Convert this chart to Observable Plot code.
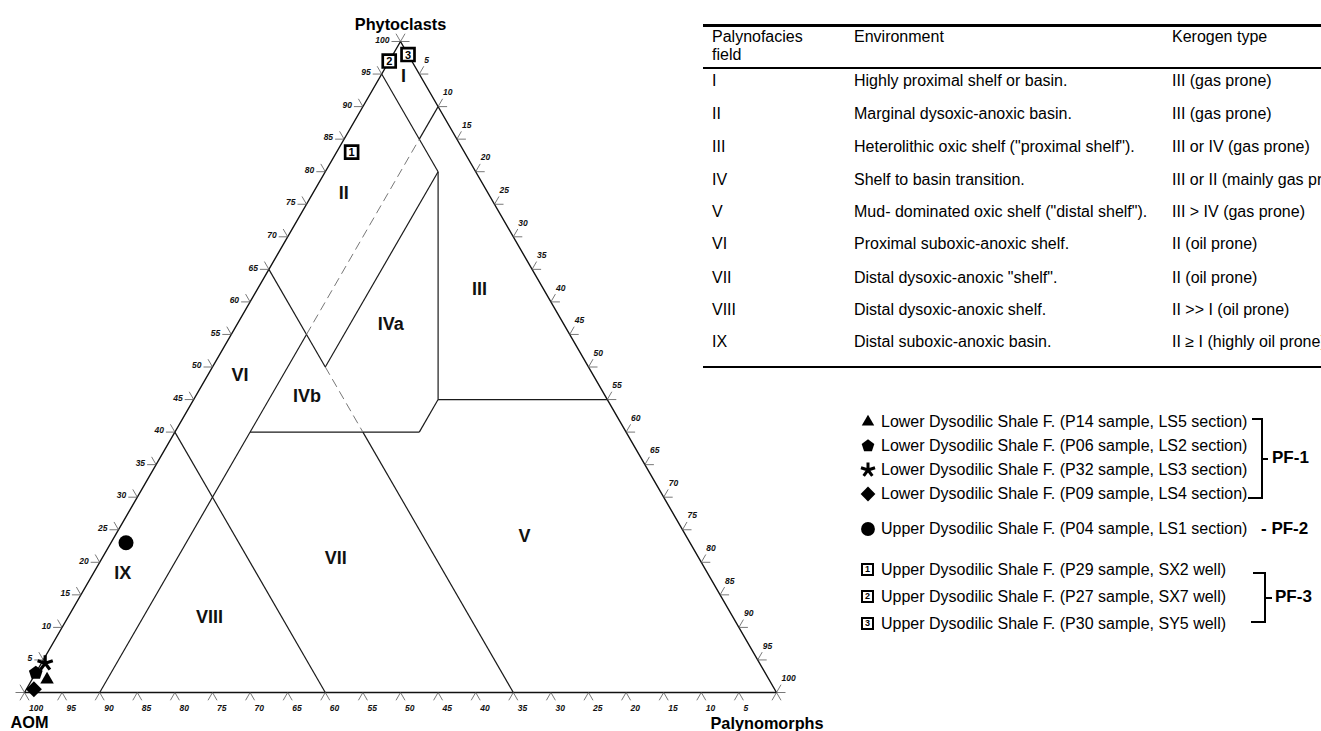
<!DOCTYPE html>
<html><head><meta charset="utf-8">
<script src="https://cdn.jsdelivr.net/npm/d3@7"></script>
<script src="https://cdn.jsdelivr.net/npm/@observablehq/plot@0.6"></script>
<style>
html,body{margin:0;padding:0;background:#fff;}
body{width:1321px;height:731px;overflow:hidden;position:relative;font-family:"Liberation Sans",Arial,sans-serif;color:#000;}
#chart{position:absolute;left:0;top:0;}
.abs{position:absolute;white-space:nowrap;}
</style></head><body>
<div id="chart"></div>
<div id="extra"></div>
<script>
// ---------------- data ----------------
const axisTitles = ["AOM", "Phytoclasts", "Palynomorphs"];
const tickValues = [0,5,10,15,20,25,30,35,40,45,50,55,60,65,70,75,80,85,90,95,100];

// field boundary segments, endpoints as [AOM, Phytoclasts, Palynomorphs] %
const solidBoundaries = [
  [[5,95,0],[5,80,15]],
  [[5,80,15],[22.5,45,32.5]],
  [[22.5,45,32.5],[0,45,55]],
  [[22.5,45,32.5],[27.5,40,32.5]],
  [[27.5,40,32.5],[50,40,10]],
  [[5,80,15],[35,50,15]],
  [[90,0,10],[35,55,10]],
  [[5,85,10],[0,90,10]],
  [[35,65,0],[35,50,15]],
  [[35,40,25],[35,0,65]],
  [[60,40,0],[60,0,40]]
];
const dashedBoundaries = [
  [[35,55,10],[5,85,10]],
  [[35,50,15],[35,40,25]]
];

// palynofacies field labels
const fieldNames = ["I","II","III","IVa","IVb","V","VI","VII","VIII","IX"];
const fieldAOM   = [2.3, 19.2, 8.5, 23, 39.7, 21.5, 47, 48.3, 69.6, 77.8];
const fieldPhyto = [94.6, 76.7, 62, 56.6, 45.5, 24, 48.7, 20.6, 11.6, 18.3];
const fieldPaly  = [3.1, 4.1, 29.5, 20.4, 14.8, 54.5, 4.3, 31.1, 18.8, 3.9];

// samples
const sampleIds   = ["P14","P06","P32","P09","P04","P29","P27","P30"];
const sampleAOM   = [96, 97, 95, 98.5, 75, 15, 3, 0];
const samplePhyto = [2, 3, 4.5, 0.5, 23, 83, 97, 98];
const samplePaly  = [2, 0, 0.5, 1, 2, 2, 0, 2];
const sampleFormations = ["Lower Dysodilic Shale F.","Lower Dysodilic Shale F.","Lower Dysodilic Shale F.","Lower Dysodilic Shale F.","Upper Dysodilic Shale F.","Upper Dysodilic Shale F.","Upper Dysodilic Shale F.","Upper Dysodilic Shale F."];
const sampleDetails = ["(P14 sample, LS5 section)","(P06 sample, LS2 section)","(P32 sample, LS3 section)","(P09 sample, LS4 section)","(P04 sample, LS1 section)","(P29 sample, SX2 well)","(P27 sample, SX7 well)","(P30 sample, SY5 well)"];
const sampleGroups = ["PF-1","PF-1","PF-1","PF-1","PF-2","PF-3","PF-3","PF-3"];

// table
const tableHeaders = ["Palynofacies\nfield", "Environment", "Kerogen type"];
const tableFields = ["I","II","III","IV","V","VI","VII","VIII","IX"];
const tableEnvironments = ["Highly proximal shelf or basin.","Marginal dysoxic-anoxic basin.","Heterolithic oxic shelf (\"proximal shelf\").","Shelf to basin transition.","Mud- dominated oxic shelf (\"distal shelf\").","Proximal suboxic-anoxic shelf.","Distal dysoxic-anoxic \"shelf\".","Distal dysoxic-anoxic shelf.","Distal suboxic-anoxic basin."];
const tableKerogen = ["III (gas prone)","III (gas prone)","III or IV (gas prone)","III or II (mainly gas prone)","III > IV (gas prone)","II (oil prone)","II (oil prone)","II >> I (oil prone)","II \u2265 I (highly oil prone)"];

// ---------------- geometry ----------------
const W = 830, H = 731, L = 24, R = 776, T = 41, B = 692;
const ux = 100 / (R - L), uy = 100 / (B - T);   // data units per pixel
const tx = c => c[2] + c[1] / 2;   // ternary -> cartesian x
const ty = c => c[1];              // ternary -> cartesian y
const comp = (a, ph, pa) => [a, ph, pa];

// symbols
const poly = (n) => ({draw(ctx, size){const r = Math.sqrt(size/Math.PI); for(let i=0;i<n;i++){const a=i*2*Math.PI/n; const x=r*Math.sin(a), y=-r*Math.cos(a); if(i) ctx.lineTo(x,y); else ctx.moveTo(x,y);} ctx.closePath();}});
const star5 = {draw(ctx, size){const r = Math.sqrt(size/Math.PI); for(let i=0;i<5;i++){const a=i*2*Math.PI/5; ctx.moveTo(0,0); ctx.lineTo(r*Math.sin(a), -r*Math.cos(a));}}};
const markerFor = {
  P14: {type: poly(3), r: 7.8, filled: true},
  P06: {type: poly(5), r: 7.2, filled: true},
  P32: {type: star5, r: 8, filled: false},
  P09: {type: poly(4), r: 8, filled: true},
  P04: {type: d3.symbolCircle, r: 7.5, filled: true}
};
const boxNumber = {P29: "1", P27: "2", P30: "3"};

const samples = sampleIds.map((id,i) => ({id, c: comp(sampleAOM[i], samplePhyto[i], samplePaly[i])}));
const fields = fieldNames.map((n,i) => ({n, c: comp(fieldAOM[i], fieldPhyto[i], fieldPaly[i])}));
const segs = arr => arr.map(([a,b]) => ({a, b}));

const outline = [comp(100,0,0), comp(0,100,0), comp(0,0,100), comp(100,0,0)];

// ticks
const leftT = tickValues.map(v => ({v, c: comp(100-v, v, 0)}));
const rightT = tickValues.map(v => ({v, c: comp(0, 100-v, v)}));
const baseT = tickValues.map(v => ({v, c: comp(v, 0, 100-v)}));
const tl = 9;
const tickSegs = [];
for (const t of leftT) {
  const x = tx(t.c), y = ty(t.c);
  tickSegs.push({x1:x, y1:y, x2:x - tl*ux, y2:y});
  tickSegs.push({x1:x, y1:y, x2:x - tl*0.5*ux, y2:y + tl*0.866*uy});
}
for (const t of rightT) {
  const x = tx(t.c), y = ty(t.c);
  tickSegs.push({x1:x, y1:y, x2:x + tl*ux, y2:y});
  tickSegs.push({x1:x, y1:y, x2:x + tl*0.5*ux, y2:y + tl*0.866*uy});
}
for (const t of baseT) {
  const x = tx(t.c), y = ty(t.c);
  tickSegs.push({x1:x, y1:y, x2:x - tl*0.5*ux, y2:y - tl*0.866*uy});
  tickSegs.push({x1:x, y1:y, x2:x + tl*0.5*ux, y2:y - tl*0.866*uy});
}
const tickFont = {fontSize: 8.5, fontStyle: "italic", fontWeight: "bold", fill: "#111"};

const marks = [
  Plot.line(outline, {x: tx, y: ty, stroke: "#111", strokeWidth: 1.4}),
  Plot.link(segs(solidBoundaries), {x1: d=>tx(d.a), y1: d=>ty(d.a), x2: d=>tx(d.b), y2: d=>ty(d.b), stroke: "#1a1a1a", strokeWidth: 1.2}),
  Plot.link(segs(dashedBoundaries), {x1: d=>tx(d.a), y1: d=>ty(d.a), x2: d=>tx(d.b), y2: d=>ty(d.b), stroke: "#777", strokeWidth: 1, strokeDasharray: "9,5"}),
  Plot.link(tickSegs, {x1:"x1", y1:"y1", x2:"x2", y2:"y2", stroke: "#555", strokeWidth: 0.8}),
  Plot.text(leftT.filter(d=>d.v>0), {x: d=>tx(d.c), y: d=>ty(d.c), text: d=>String(d.v), textAnchor: "end", dx: -11, dy: -1.5, ...tickFont}),
  Plot.text(rightT.filter(d=>d.v>0), {x: d=>tx(d.c), y: d=>ty(d.c), text: d=>String(d.v), textAnchor: "start", dx: 5, dy: -14, ...tickFont}),
  Plot.text(baseT.filter(d=>d.v>0), {x: d=>tx(d.c), y: d=>ty(d.c), text: d=>String(d.v), textAnchor: "start", dx: 4.5, dy: 16, ...tickFont}),
  Plot.text(fields, {x: d=>tx(d.c), y: d=>ty(d.c), text: "n", fontSize: 18, fontWeight: "bold", fill: "#111"}),
  Plot.text([comp(0,100,0)], {x: tx, y: ty, text: () => axisTitles[1], dy: -17, fontSize: 16.3, fontWeight: "bold"}),
  Plot.text([comp(100,0,0)], {x: tx, y: ty, text: () => axisTitles[0], textAnchor: "start", dx: -14, dy: 30, fontSize: 16.3, fontWeight: "bold"}),
  Plot.text([comp(0,0,100)], {x: tx, y: ty, text: () => axisTitles[2], textAnchor: "start", dx: -66, dy: 31, fontSize: 16.3, fontWeight: "bold"})
];
for (const s of samples) {
  const m = markerFor[s.id];
  if (m) {
    marks.push(Plot.dot([s], {x: d=>tx(d.c), y: d=>ty(d.c), symbol: m.type, r: m.r,
      fill: m.filled ? "#000" : "none", stroke: m.filled ? "none" : "#000", strokeWidth: m.filled ? 0 : 3.2}));
  }
}
const boxes = samples.filter(s => boxNumber[s.id]);
marks.push(Plot.dot(boxes, {x: d=>tx(d.c), y: d=>ty(d.c), symbol: "square", r: 7.3, fill: "white", stroke: "#000", strokeWidth: 2.7}));
marks.push(Plot.text(boxes, {x: d=>tx(d.c), y: d=>ty(d.c), text: d=>boxNumber[d.id], fontSize: 11, fontWeight: "bold", dy: 0.5}));

const chart = Plot.plot({
  width: W, height: H,
  marginLeft: L, marginRight: W - R, marginTop: T, marginBottom: H - B,
  x: {domain: [0,100], axis: null},
  y: {domain: [0,100], axis: null},
  style: {fontFamily: '"Liberation Sans", Arial, sans-serif', background: "transparent", overflow: "visible"},
  marks
});
document.getElementById("chart").appendChild(chart);

// ---------------- table ----------------
const ex = d3.select("#extra");
const rule = (top, h) => ex.append("div").attr("class","abs").style("left","703px").style("top",top+"px").style("width","700px").style("height",h+"px").style("background","#000");
rule(24, 2.5); rule(67.3, 1.8); rule(365.5, 2.5);
const colX = [712, 854, 1172];
const tFont = 16;
tableHeaders.forEach((h,i) => {
  ex.append("div").attr("class","abs").style("left",colX[i]+"px").style("top","27.5px")
    .style("font-size",tFont+"px").style("line-height","18.3px").style("white-space","pre").text(h);
});
const rowY = [80.7,113.7,147,180,211.5,244,278,309.5,342];
tableFields.forEach((f,i) => {
  [f, tableEnvironments[i], tableKerogen[i]].forEach((t,j) => {
    ex.append("div").attr("class","abs").style("left",colX[j]+"px").style("top",(rowY[i]-10)+"px")
      .style("font-size",tFont+"px").style("line-height","20px").text(t);
  });
});

// ---------------- legend ----------------
const legY = [422, 446, 470, 494, 529, 570, 597, 624];
const symX = 868, textX = 881;
samples.forEach((s,i) => {
  const y = legY[i];
  const m = markerFor[s.id];
  if (m) {
    const svg = ex.append("svg").attr("class","abs").style("left",(symX-10)+"px").style("top",(y-10)+"px").attr("width",20).attr("height",20);
    svg.append("path").attr("transform","translate(10,10)")
      .attr("d", d3.symbol(m.type, Math.PI*m.r*m.r*0.85)())
      .attr("fill", m.filled ? "#000" : "none").attr("stroke", m.filled ? "none" : "#000").attr("stroke-width", m.filled ? 0 : 3);
  } else {
    ex.append("div").attr("class","abs").style("left",(symX-7)+"px").style("top",(y-7)+"px")
      .style("width","9px").style("height","9px").style("border","2.5px solid #000")
      .style("font-size","9px").style("font-weight","bold").style("line-height","9.5px").style("text-align","center")
      .text(boxNumber[s.id]);
  }
  ex.append("div").attr("class","abs").style("left",textX+"px").style("top",(y-10)+"px")
    .style("font-size","16px").style("line-height","20px").text(sampleFormations[i] + " " + sampleDetails[i]);
});
// brackets
const line = (l,t,w,h) => ex.append("div").attr("class","abs").style("left",l+"px").style("top",t+"px").style("width",w+"px").style("height",h+"px").style("background","#000");
function bracket(x, top, bottom, hookTop, hookBot, mid, tickLen, label, labelX) {
  line(x - hookTop, top, hookTop + 1.5, 1.5);
  line(x, top, 1.5, bottom - top + 1.5);
  line(x - hookBot, bottom, hookBot + 1.5, 1.5);
  line(x, mid, tickLen, 1.5);
  ex.append("div").attr("class","abs").style("left",labelX+"px").style("top",(mid-10)+"px")
    .style("font-size","17px").style("font-weight","bold").style("line-height","20px").text(label);
}
bracket(1261, 418, 497, 9, 13, 458, 7, "PF-1", 1272);
ex.append("div").attr("class","abs").style("left","1261px").style("top",(529-10)+"px")
  .style("font-size","17px").style("font-weight","bold").style("line-height","20px").text("- PF-2");
bracket(1264, 572, 621, 11, 13, 597, 8, "PF-3", 1275);
</script>
</body></html>
